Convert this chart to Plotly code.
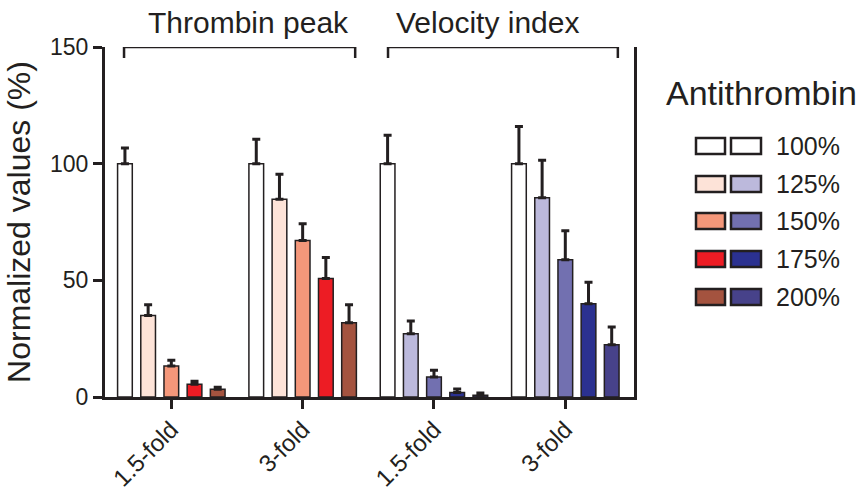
import plotly.graph_objects as go

levels = ["100%", "125%", "150%", "175%", "200%"]
fold_labels = ["1.5-fold", "3-fold", "1.5-fold", "3-fold"]
groups = ["Thrombin peak", "Velocity index"]

thrombin_15 = [100, 34.9, 13.3, 5.5, 3.3]
thrombin_15_sd = [6.7, 4.6, 2.5, 1.3, 0.9]
thrombin_3 = [100, 84.8, 67.1, 50.8, 31.8]
thrombin_3_sd = [10.5, 10.7, 7.2, 9.0, 7.7]
velocity_15 = [100, 27.1, 8.6, 1.9, 0.7]
velocity_15_sd = [12.2, 5.5, 2.9, 1.5, 1.0]
velocity_3 = [100, 85.4, 58.8, 40.0, 22.4]
velocity_3_sd = [15.9, 16.1, 12.5, 9.2, 7.6]

red_colors = ["#ffffff", "#fde3d8", "#f4977a", "#ed1c24", "#a4533f"]
blue_colors = ["#ffffff", "#bcb9dc", "#7270b0", "#2b3190", "#47428a"]

INK = "#231f20"
FONT = "Liberation Sans, Arial, sans-serif"

fig = go.Figure()
for i, lev in enumerate(levels):
    fig.add_trace(go.Bar(
        x=[0, 1], y=[thrombin_15[i], thrombin_3[i]],
        offsetgroup=str(i), name=lev, showlegend=False,
        marker=dict(color=red_colors[i], line=dict(color=INK, width=1.5)),
        error_y=dict(type="data", symmetric=False,
                     array=[thrombin_15_sd[i], thrombin_3_sd[i]],
                     arrayminus=[0, 0], color=INK, thickness=3, width=4),
    ))
    fig.add_trace(go.Bar(
        x=[2, 3], y=[velocity_15[i], velocity_3[i]],
        offsetgroup=str(i), name=lev, showlegend=False,
        marker=dict(color=blue_colors[i], line=dict(color=INK, width=1.5)),
        error_y=dict(type="data", symmetric=False,
                     array=[velocity_15_sd[i], velocity_3_sd[i]],
                     arrayminus=[0, 0], color=INK, thickness=3, width=4),
    ))

L, R, T, B = 105, 634, 47, 397
W, H = 862, 490


def px(x):
    return (x - L) / (R - L)


def py(y):
    return (B - y) / (B - T)


shapes = []
annotations = []

# brackets over the groups
for (x0, x1), tx, label in zip([(-0.36, 1.40), (1.65, 3.40)], [0.59, 2.41], groups):
    shapes.append(dict(type="path", xref="x", yref="y",
                       path=f"M {x0},145.3 L {x0},150 L {x1},150 L {x1},145.3",
                       line=dict(color=INK, width=2.5)))
    annotations.append(dict(text=label, xref="x", yref="paper",
                            x=tx, y=1, yshift=25, yanchor="middle",
                            showarrow=False, font=dict(size=30, color=INK, family=FONT)))

# custom legend
annotations.append(dict(text="Antithrombin", xref="paper", yref="paper",
                        x=px(761), y=py(93), xanchor="center", yanchor="middle",
                        showarrow=False, font=dict(size=34, color=INK, family=FONT)))
row_centers = [146, 184, 221, 259, 297]
for i, lev in enumerate(levels):
    cy = row_centers[i]
    for (sx0, sx1), col in zip([(696, 725), (731, 761)], [red_colors[i], blue_colors[i]]):
        shapes.append(dict(type="rect", xref="paper", yref="paper",
                           x0=px(sx0), x1=px(sx1), y0=py(cy + 8), y1=py(cy - 8),
                           fillcolor=col, line=dict(color=INK, width=2.5)))
    annotations.append(dict(text=lev, xref="paper", yref="paper",
                            x=px(774), y=py(cy), xanchor="left", yanchor="middle",
                            showarrow=False, font=dict(size=25, color=INK, family=FONT)))

fig.update_layout(
    width=W, height=H,
    margin=dict(l=L, r=W - R, t=T, b=H - B, pad=0, autoexpand=False),
    paper_bgcolor="white", plot_bgcolor="white",
    barmode="group", bargap=0.117, bargroupgap=0.366,
    font=dict(family=FONT, color=INK),
    shapes=shapes, annotations=annotations,
    showlegend=False,
)
fig.update_xaxes(
    range=[-0.505, 3.523], tickvals=[0, 1, 2, 3], ticktext=fold_labels,
    tickangle=-45, ticks="outside", ticklen=9, tickwidth=3, tickcolor=INK,
    ticklabelstandoff=-3, ticklabelshift=0,
    showline=True, linewidth=3, linecolor=INK, showgrid=False, zeroline=False,
    tickfont=dict(size=24, color=INK, family=FONT), automargin=False,
)
fig.update_yaxes(
    range=[0, 150], tickvals=[0, 50, 100, 150],
    ticks="outside", ticklen=9, tickwidth=3, tickcolor=INK,
    showline=True, mirror=True, linewidth=3, linecolor=INK, showgrid=False, zeroline=False,
    tickfont=dict(size=23, color=INK, family=FONT), automargin=False,
    title=dict(text="Normalized values (%)", font=dict(size=32, color=INK, family=FONT), standoff=10),
)

fig.write_html("out.html", config={"displayModeBar": False},
               post_script="document.body.style.margin='0';document.body.style.padding='0';")
